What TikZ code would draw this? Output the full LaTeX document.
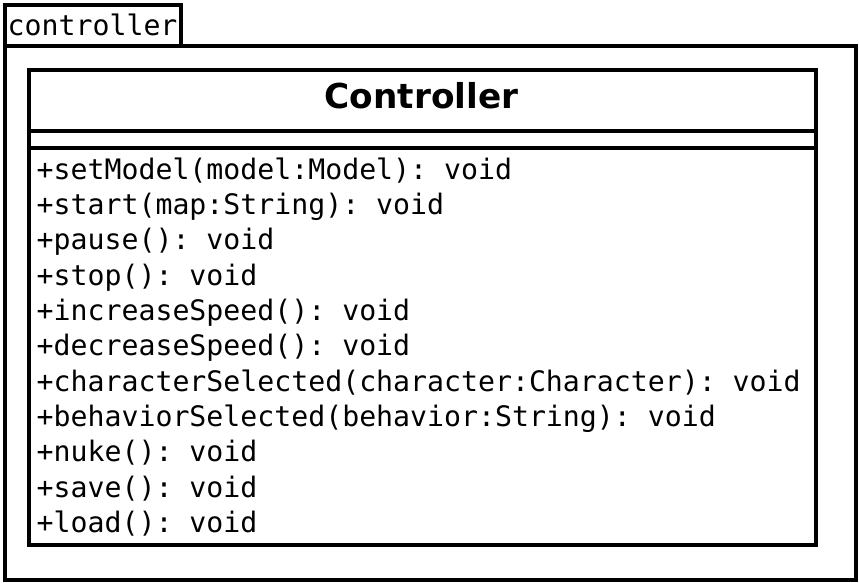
\documentclass[tikz,border=0pt]{standalone}
\usepackage{fontspec}
\setmainfont{DejaVu Sans}
\setsansfont{DejaVu Sans}
\setmonofont{DejaVu Sans Mono}
\begin{document}
\begin{tikzpicture}[x=1bp,y=-1bp,
  pkg/.style={draw=black,line width=4bp},
  cls/.style={draw=black,line width=3.3bp},
  member/.style={anchor=base west,inner sep=0pt,font=\fontsize{28.2bp}{30bp}\selectfont\ttfamily},
  title/.style={anchor=base,inner sep=0pt,font=\fontsize{34.3bp}{36bp}\selectfont\sffamily\bfseries}]
\useasboundingbox[fill=white] (0,0) rectangle (859,583);
% package
\draw[pkg] (5,5) rectangle (180.5,46);
\draw[pkg] (5,46) rectangle (856,580);
\node[member] (pkgname) at (7.5,36) {controller};
% class
\draw[cls] (29,70) rectangle (816,545);
\draw[cls] (29,131) -- (816,131);
\draw[cls] (29,148) -- (816,148);
\node[title] (cname) at (421.5,109) {Controller};
\foreach \t [count=\i from 0] in {%
  {+setModel(model:Model): void},
  {+start(map:String): void},
  {+pause(): void},
  {+stop(): void},
  {+increaseSpeed(): void},
  {+decreaseSpeed(): void},
  {+characterSelected(character:Character): void},
  {+behaviorSelected(behavior:String): void},
  {+nuke(): void},
  {+save(): void},
  {+load(): void}}
  \node[member] (m\i) at (36.5,179.3+35.3*\i) {\t};
\end{tikzpicture}
\end{document}
